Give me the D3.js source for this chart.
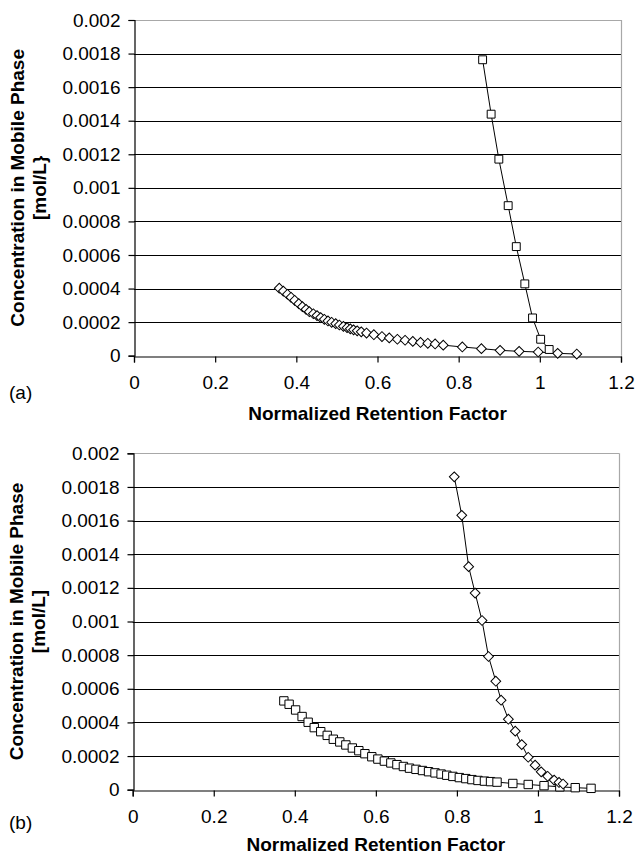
<!DOCTYPE html>
<html>
<head>
<meta charset="utf-8">
<script src="https://cdn.jsdelivr.net/npm/d3@7"></script>
<style>
  body { margin: 0; background: #fff; }
  svg text { font-family: "Liberation Sans", Arial, sans-serif; fill: #000; }
</style>
</head>
<body>
<svg id="chart" width="635" height="856"></svg>
<script>
// axis ticks shared by both panels
var xTicks = [0, 0.2, 0.4, 0.6, 0.8, 1, 1.2];
var yTicks = [0, 0.0002, 0.0004, 0.0006, 0.0008, 0.001, 0.0012, 0.0014, 0.0016, 0.0018, 0.002];

// panel (a)
var aSquareX = [0.859, 0.880, 0.899, 0.922, 0.942, 0.963, 0.982, 1.002, 1.023];
var aSquareY = [0.001763, 0.001439, 0.001171, 0.000894, 0.000650, 0.000428, 0.000225, 0.000098, 0.000037];
var aDiamondX = [0.358, 0.368, 0.378, 0.387, 0.396, 0.406, 0.415, 0.424, 0.432, 0.442,
                 0.451, 0.460, 0.469, 0.478, 0.487, 0.497, 0.506, 0.516, 0.525, 0.533,
                 0.541, 0.550, 0.560, 0.573, 0.591, 0.611, 0.629, 0.649, 0.668, 0.687,
                 0.706, 0.724, 0.742, 0.762, 0.809, 0.856, 0.902, 0.949, 0.996, 1.044, 1.091];
var aDiamondY = [0.000402, 0.000385, 0.000366, 0.000348, 0.000330, 0.000310, 0.000292, 0.000276, 0.000262, 0.000250,
                 0.000239, 0.000227, 0.000217, 0.000207, 0.000199, 0.000191, 0.000183, 0.000175, 0.000167, 0.000160,
                 0.000154, 0.000148, 0.000142, 0.000135, 0.000125, 0.000114, 0.000106, 0.000098, 0.000092, 0.000085,
                 0.000079, 0.000074, 0.000070, 0.000063, 0.000052, 0.000042, 0.000032, 0.000026, 0.000022, 0.000014, 0.000010];

// panel (b)
var bSquareX = [0.373, 0.386, 0.402, 0.418, 0.433, 0.448, 0.464, 0.480, 0.495, 0.511,
                0.526, 0.542, 0.558, 0.573, 0.590, 0.605, 0.621, 0.637, 0.652, 0.668,
                0.683, 0.699, 0.715, 0.730, 0.746, 0.761, 0.775, 0.790, 0.806, 0.822,
                0.837, 0.852, 0.868, 0.883, 0.899, 0.938, 0.976, 1.015, 1.054, 1.092, 1.131];
var bSquareY = [0.000528, 0.000508, 0.000474, 0.000435, 0.000401, 0.000369, 0.000345, 0.000323, 0.000300, 0.000284,
                0.000266, 0.000248, 0.000232, 0.000214, 0.000196, 0.000182, 0.000170, 0.000159, 0.000149, 0.000138,
                0.000128, 0.000121, 0.000114, 0.000107, 0.000100, 0.000093, 0.000086, 0.000079, 0.000072, 0.000066,
                0.000060, 0.000055, 0.000051, 0.000048, 0.000045, 0.000037, 0.000031, 0.000024, 0.000017, 0.000012, 0.000008];
var bDiamondX = [0.7935, 0.812, 0.829, 0.845, 0.862, 0.878, 0.896, 0.909, 0.927, 0.944,
                 0.960, 0.976, 0.993, 1.008, 1.024, 1.040, 1.052, 1.062];
var bDiamondY = [0.00186, 0.001631, 0.001326, 0.001169, 0.001006, 0.000792, 0.000645, 0.000532, 0.000419, 0.000348,
                 0.000268, 0.000193, 0.000146, 0.000106, 0.000080, 0.000057, 0.000043, 0.000034];

var svg = d3.select("#chart");

function drawPanel(p) {
    var x = d3.scaleLinear().domain([0, 1.2]).range([p.left, p.right]);
    var y = d3.scaleLinear().domain([0, 0.002]).range([p.bottom, p.top]);
    var g = svg.append("g");

    // horizontal grid lines (top one is the grey plot border)
    g.selectAll(".grid").data(yTicks.slice(1)).enter()
        .append("line")
        .attr("x1", p.left).attr("x2", p.right)
        .attr("y1", function (d) { return Math.round(y(d)) + 0.5; })
        .attr("y2", function (d) { return Math.round(y(d)) + 0.5; })
        .attr("stroke", function (d, i) { return i == yTicks.length - 2 ? "#a8a8a8" : "#000"; })
        .attr("stroke-width", 1.2);

    // right border
    g.append("line")
        .attr("x1", Math.round(p.right) + 0.5).attr("x2", Math.round(p.right) + 0.5)
        .attr("y1", y(0.002)).attr("y2", y(0))
        .attr("stroke", "#a8a8a8").attr("stroke-width", 1.2);

    var yAxis = g.append("g")
        .attr("transform", "translate(" + (Math.round(p.left) + 0.5) + ",0)")
        .call(d3.axisLeft(y).tickValues(yTicks).tickSize(6).tickPadding(8)
              .tickFormat(function (d) { return String(+d.toFixed(4)); }));
    var xAxis = g.append("g")
        .attr("transform", "translate(0," + (Math.round(p.bottom) + 0.5) + ")")
        .call(d3.axisBottom(x).tickValues(xTicks).tickSize(6).tickPadding(13)
              .tickFormat(function (d) { return String(d); }));
    [yAxis, xAxis].forEach(function (a) {
        a.select(".domain").attr("stroke", "#000").attr("stroke-width", 1.2);
        a.selectAll(".tick line").attr("stroke", "#000").attr("stroke-width", 1.2);
        a.selectAll("text").attr("font-size", 19).attr("font-family", "Liberation Sans, Arial, sans-serif");
    });

    var line = d3.line()
        .x(function (d) { return x(d[0]); })
        .y(function (d) { return y(d[1]); });

    p.series.forEach(function (s) {
        var pts = d3.zip(s.xs, s.ys);
        g.append("path").datum(pts)
            .attr("d", line)
            .attr("fill", "none").attr("stroke", "#000").attr("stroke-width", 1);
        g.selectAll(null).data(pts).enter()
            .append("path")
            .attr("d", d3.symbol().type(d3.symbolSquare).size(s.size))
            .attr("transform", function (d) {
                return "translate(" + x(d[0]) + "," + y(d[1]) + ")" + (s.diamond ? " rotate(45)" : "");
            })
            .attr("fill", "#fff").attr("stroke", "#000").attr("stroke-width", 1);
    });

    // axis titles
    svg.append("text")
        .attr("x", (p.left + p.right) / 2).attr("y", p.titleY)
        .attr("text-anchor", "middle").attr("font-size", 19).attr("font-weight", "bold")
        .text("Normalized Retention Factor");
    var cy = (p.top + p.bottom) / 2;
    svg.append("text")
        .attr("transform", "translate(" + p.yTitleX + "," + cy + ") rotate(-90)")
        .attr("text-anchor", "middle").attr("font-size", 19).attr("font-weight", "bold")
        .text("Concentration in Mobile Phase");
    svg.append("text")
        .attr("transform", "translate(" + (p.yTitleX + 22) + "," + cy + ") rotate(-90)")
        .attr("text-anchor", "middle").attr("font-size", 19).attr("font-weight", "bold")
        .text(p.unit);
    svg.append("text")
        .attr("x", 9).attr("y", p.labelY)
        .attr("font-size", 19)
        .text(p.label);
}

drawPanel({
    left: 134, right: 621, top: 20, bottom: 355.7,
    titleY: 420, yTitleX: 24, unit: "[mol/L}", label: "(a)", labelY: 399,
    series: [
        { xs: aDiamondX, ys: aDiamondY, diamond: true, size: 48 },
        { xs: aSquareX, ys: aSquareY, diamond: false, size: 62 }
    ]
});

drawPanel({
    left: 132.7, right: 619, top: 453.3, bottom: 789.7,
    titleY: 851, yTitleX: 23, unit: "[mol/L]", label: "(b)", labelY: 829,
    series: [
        { xs: bSquareX, ys: bSquareY, diamond: false, size: 70 },
        { xs: bDiamondX, ys: bDiamondY, diamond: true, size: 48 }
    ]
});
</script>
</body>
</html>
